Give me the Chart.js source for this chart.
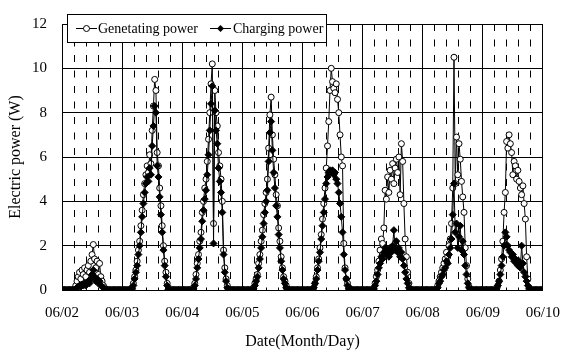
<!DOCTYPE html>
<html>
<head>
<meta charset="utf-8">
<script src="https://cdn.jsdelivr.net/npm/chart.js@4"></script>
<style>
	html, body { margin: 0; padding: 0; background: #fff; }
	#wrap { width: 574px; height: 353px; }
</style>
</head>
<body>
<div id="wrap"><canvas id="chart" width="574" height="353"></canvas></div>
<script>
//half-hourly readings (00:00 to 23:30) for each day, in W
var gen0602 = [0,0,0,0,0,0,0,0,0,0,
	0.05,0.2,0.4,0.6,0.8,0.5,0.9,0.7,1.0,0.6,
	0.9,1.1,0.8,1.3,1.6,2.05,1.4,1.0,1.3,0.7,
	1.2,0.6,0.4,0.2,0.1,0,0,0,0,0,
	0,0,0,0,0,0,0,0];
var chg0602 = [0,0,0,0,0,0,0,0,0,0,
	0.02,0.05,0.1,0.15,0.2,0.15,0.25,0.2,0.3,0.2,
	0.3,0.4,0.3,0.5,0.7,0.9,0.6,0.4,0.5,0.3,
	0.4,0.2,0.15,0.1,0.05,0,0,0,0,0,
	0,0,0,0,0,0,0,0];
var gen0603 = [0,0,0,0,0,0,0,0,0.1,0.3,
	0.6,0.9,1.3,1.8,2.2,2.9,3.6,4.3,4.8,5.2,
	5.6,5.3,6.1,5.7,7.2,8.3,9.5,9.0,6.2,5.6,
	4.6,3.8,2.9,2.0,1.3,0.8,0.3,0.05,0,0,
	0,0,0,0,0,0,0,0];
var chg0603 = [0,0,0,0,0,0,0,0,0.05,0.2,
	0.5,0.8,1.1,1.6,2.0,2.6,3.3,3.9,4.4,4.8,
	5.1,4.9,5.5,5.2,6.5,7.4,8.3,8.0,5.6,5.1,
	4.2,3.4,2.6,1.8,1.1,0.6,0.2,0.03,0,0,
	0,0,0,0,0,0,0,0];
var gen0604 = [0,0,0,0,0,0,0,0,0,0.1,
	0.3,0.7,1.2,1.6,2.2,2.6,3.5,4.0,4.6,5.0,
	5.8,6.8,8.0,9.3,10.2,3.0,9.0,8.0,7.4,6.2,
	5.6,5.0,4.0,1.8,1.0,0.5,0.2,0.05,0,0,
	0,0,0,0,0,0,0,0];
var chg0604 = [0,0,0,0,0,0,0,0,0,0.05,
	0.2,0.5,1.0,1.4,1.9,2.3,3.1,3.6,4.1,4.5,
	5.2,6.1,7.2,8.4,9.2,2.1,8.1,7.2,6.6,5.5,
	4.9,4.4,3.5,1.6,0.8,0.4,0.1,0.02,0,0,
	0,0,0,0,0,0,0,0];
var gen0605 = [0,0,0,0,0,0,0,0,0,0.1,
	0.3,0.5,0.7,1.2,1.6,2.2,2.7,3.4,3.9,4.4,
	5.0,6.4,7.9,8.7,7.0,5.9,5.2,4.3,3.8,2.8,
	2.2,1.5,1.0,0.6,0.4,0.2,0.05,0,0,0,
	0,0,0,0,0,0,0,0];
var chg0605 = [0,0,0,0,0,0,0,0,0,0.05,
	0.2,0.4,0.6,1.0,1.4,1.9,2.4,3.0,3.5,4.0,
	4.5,5.8,7.1,7.6,6.3,5.3,4.6,3.8,3.3,2.5,
	1.9,1.3,0.9,0.5,0.3,0.1,0.02,0,0,0,
	0,0,0,0,0,0,0,0];
var gen0606 = [0,0,0,0,0,0,0,0,0,0.1,
	0.3,0.6,1.0,1.4,1.9,2.5,3.2,3.9,4.6,5.5,
	6.5,7.6,9.0,10.0,9.4,9.1,8.9,9.3,8.6,8.0,
	7.0,6.0,5.6,2.1,1.0,0.5,0.3,0.1,0,0,
	0,0,0,0,0,0,0,0];
var chg0606 = [0,0,0,0,0,0,0,0,0,0.1,
	0.3,0.5,0.9,1.3,1.7,2.3,2.9,3.5,4.1,4.8,
	5.1,5.3,5.4,5.3,5.4,5.2,5.3,5.0,4.8,4.4,
	3.9,3.3,2.6,1.6,0.9,0.5,0.2,0.05,0,0,
	0,0,0,0,0,0,0,0];
var gen0607 = [0,0,0,0,0,0,0,0,0,0.05,
	0.3,0.6,0.9,1.3,1.8,2.3,2.1,2.8,4.5,4.1,
	5.1,4.4,5.4,5.0,5.7,4.8,5.5,5.9,5.3,6.0,
	4.3,6.6,5.8,3.9,2.3,1.5,0.8,0.3,0.05,0,
	0,0,0,0,0,0,0,0];
var chg0607 = [0,0,0,0,0,0,0,0,0,0.05,
	0.2,0.4,0.7,1.0,1.2,1.5,1.4,1.7,1.9,1.6,
	1.8,1.5,1.9,1.7,2.0,2.7,1.8,2.2,1.7,1.9,
	1.5,1.7,1.4,1.1,0.8,0.5,0.3,0.1,0.02,0,
	0,0,0,0,0,0,0,0];
var gen0608 = [0,0,0,0,0,0,0,0,0,0,
	0,0.05,0.2,0.4,0.6,0.8,1.0,1.2,1.4,1.7,
	1.5,2.0,2.3,3.0,4.6,10.5,4.8,6.9,5.2,6.6,
	5.9,4.9,4.2,3.5,1.9,1.1,0.5,0.15,0,0,
	0,0,0,0,0,0,0,0];
var chg0608 = [0,0,0,0,0,0,0,0,0,0,
	0,0.05,0.1,0.3,0.4,0.6,0.7,0.9,1.0,1.3,
	1.2,1.6,1.9,2.3,3.4,4.8,2.6,3.0,1.9,2.4,
	2.9,1.8,2.2,1.6,1.1,0.7,0.3,0.1,0,0,
	0,0,0,0,0,0,0,0];
var gen0609 = [0,0,0,0,0,0,0,0,0,0,
	0,0.05,0.2,0.4,0.9,1.4,2.2,3.5,4.4,6.7,
	6.4,7.0,6.6,6.2,5.2,5.8,5.6,5.0,5.4,4.9,
	4.6,4.3,4.7,3.9,3.2,1.5,0.5,0.1,0,0,
	0,0,0,0,0,0,0,0];
var chg0609 = [0,0,0,0,0,0,0,0,0,0,
	0,0.05,0.2,0.4,0.7,1.1,1.5,2.0,2.6,2.4,
	2.0,1.8,1.7,1.5,1.6,1.3,1.4,1.2,1.1,1.3,
	1.0,2.0,1.2,0.8,0.6,0.4,0.2,0.05,0,0,
	0,0,0,0,0,0,0,0];
//last reading at 06/10 00:00
var gen0610 = [0];
var chg0610 = [0];

var dayLabels = ['06/02', '06/03', '06/04', '06/05', '06/06', '06/07', '06/08', '06/09', '06/10'];
var genDays = [gen0602, gen0603, gen0604, gen0605, gen0606, gen0607, gen0608, gen0609, gen0610];
var chgDays = [chg0602, chg0603, chg0604, chg0605, chg0606, chg0607, chg0608, chg0609, chg0610];

var serif = "'Liberation Serif', 'Times New Roman', serif";

function toPoints(days) {
	//x is in days from 06/02 00:00, one reading every half hour
	var pts = [];
	for (var d = 0; d < days.length; d++) {
		for (var i = 0; i < days[d].length; i++) {
			pts.push({x: d + i / 48, y: days[d][i]});
		}
	}
	return pts;
}

function isWhole(v) {
	return Math.abs(v - Math.round(v)) < 1e-6;
}

//legend drawn as a boxed strip inside the plot, like the original figure
var boxLegend = {
	id: 'boxLegend',
	afterDatasetsDraw: function(chart) {
		var ctx = chart.ctx;
		ctx.save();
		ctx.fillStyle = '#fff';
		ctx.strokeStyle = '#000';
		ctx.lineWidth = 1;
		ctx.fillRect(67, 14, 260, 29);
		ctx.strokeRect(67.5, 14.5, 259, 28);

		var yMid = 28.5;
		//generating power: line with open circle
		ctx.beginPath();
		ctx.moveTo(76, yMid);
		ctx.lineTo(97, yMid);
		ctx.stroke();
		ctx.beginPath();
		ctx.arc(86.5, yMid, 3, 0, Math.PI * 2);
		ctx.fill();
		ctx.stroke();

		//charging power: line with filled diamond
		ctx.beginPath();
		ctx.moveTo(210, yMid);
		ctx.lineTo(231, yMid);
		ctx.stroke();
		ctx.fillStyle = '#000';
		ctx.beginPath();
		ctx.moveTo(220.5, yMid - 3.5);
		ctx.lineTo(224, yMid);
		ctx.lineTo(220.5, yMid + 3.5);
		ctx.lineTo(217, yMid);
		ctx.closePath();
		ctx.fill();

		ctx.font = '14px ' + serif;
		ctx.textBaseline = 'middle';
		ctx.textAlign = 'left';
		ctx.fillText('Genetating power', 98, yMid + 0.5);
		ctx.fillText('Charging power', 233, yMid + 0.5);
		ctx.restore();
	}
};

var ctx = document.getElementById('chart').getContext('2d');
var myChart = new Chart(ctx, {
	type: 'line',
	data: {
		datasets: [{
			label: 'Charging power',
			data: toPoints(chgDays),
			order: 0,
			borderColor: '#000',
			borderWidth: 1,
			pointStyle: 'rectRot',
			pointRadius: 3.5,
			pointBackgroundColor: '#000',
			pointBorderColor: '#000',
			pointBorderWidth: 1,
			tension: 0
		}, {
			label: 'Genetating power',
			data: toPoints(genDays),
			order: 1,
			borderColor: '#000',
			borderWidth: 1,
			pointStyle: 'circle',
			pointRadius: 3,
			pointBackgroundColor: '#fff',
			pointBorderColor: '#000',
			pointBorderWidth: 1,
			tension: 0
		}]
	},
	options: {
		responsive: false,
		animation: false,
		devicePixelRatio: 1,
		layout: {padding: {left: 0, right: 17, top: 10, bottom: 0}},
		plugins: {
			legend: {display: false},
			tooltip: {enabled: false}
		},
		scales: {
			x: {
				type: 'linear',
				position: 'bottom',
				min: 0,
				max: 8,
				afterFit: function(scale) { scale.height = 63; },
				ticks: {
					stepSize: 1,
					autoSkip: false,
					maxRotation: 0,
					padding: 14,
					color: '#000',
					font: {family: serif, size: 15},
					callback: function(value) { return dayLabels[Math.round(value)]; }
				},
				grid: {color: '#000', lineWidth: 1, drawTicks: false},
				border: {color: '#000', width: 1},
				title: {
					display: true,
					text: 'Date(Month/Day)',
					color: '#000',
					font: {family: serif, size: 16},
					padding: {top: 0, bottom: 2}
				}
			},
			x2: {
				type: 'linear',
				position: 'bottom',
				min: 0,
				max: 8,
				afterFit: function(scale) { scale.height = 0; },
				ticks: {display: false, stepSize: 0.2, maxTicksLimit: 100, autoSkip: false},
				grid: {
					drawTicks: false,
					lineWidth: 1,
					color: function(c) {
						return isWhole(c.tick.value) ? 'rgba(0,0,0,0)' : '#000';
					}
				},
				border: {display: false, dash: [7, 8.5]}
			},
			y: {
				min: 0,
				max: 12,
				afterFit: function(scale) { scale.width = 62; },
				ticks: {
					stepSize: 2,
					padding: 15,
					color: '#000',
					font: {family: serif, size: 15}
				},
				grid: {color: '#000', lineWidth: 1, drawTicks: false},
				border: {color: '#000', width: 1},
				title: {
					display: true,
					text: 'Electric power (W)',
					color: '#000',
					font: {family: serif, size: 16},
					padding: {top: 6, bottom: 0}
				}
			}
		}
	},
	plugins: [boxLegend]
});
</script>
</body>
</html>
